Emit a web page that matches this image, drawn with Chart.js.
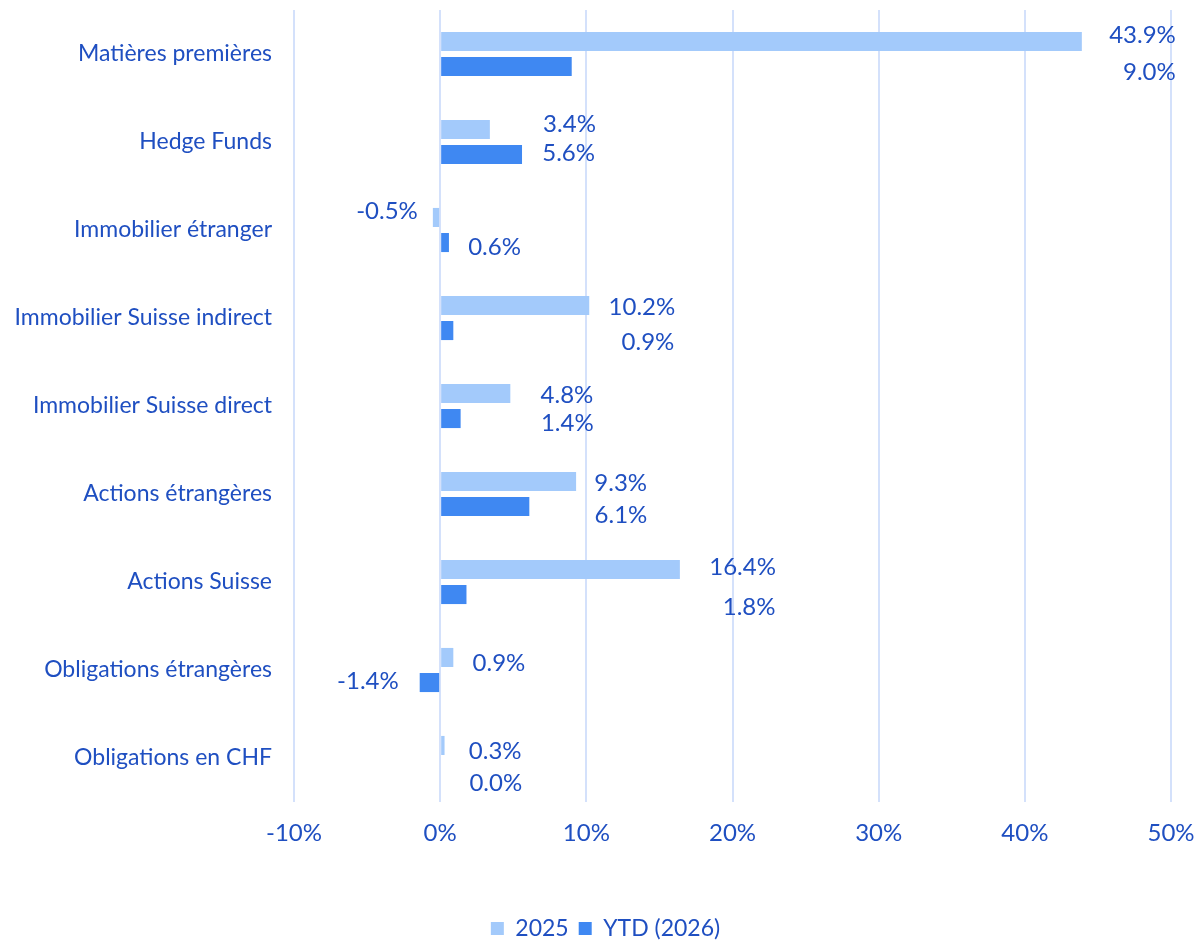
<!DOCTYPE html>
<html lang="fr">
<head>
  <meta charset="UTF-8" />
  <title>Performance par classe d'actifs</title>
  <script src="https://cdn.jsdelivr.net/npm/chart.js"></script>
  <style>
    body { margin: 0; background: #fff; }
    #wrap { position: relative; width: 1197px; height: 940px; }
  </style>
</head>
<body>
  <div id="wrap"><canvas id="perfChart"></canvas></div>

  <script>
    // Données
    const categories = [
      'Matières premières',
      'Hedge Funds',
      'Immobilier étranger',
      'Immobilier Suisse indirect',
      'Immobilier Suisse direct',
      'Actions étrangères',
      'Actions Suisse',
      'Obligations étrangères',
      'Obligations en CHF'
    ];
    const values2025 = [43.9, 3.4, -0.5, 10.2, 4.8, 9.3, 16.4, 0.9, 0.3];
    const valuesYTD = [9.0, 5.6, 0.6, 0.9, 1.4, 6.1, 1.8, -1.4, 0.0];
    const seriesNames = ['2025', 'YTD (2026)'];
    const xTicks = [-10, 0, 10, 20, 30, 40, 50];

    // décalages des étiquettes (px, bord droit du texte par rapport à l'extrémité de la barre)
    const labelOffset2025 = [[94, -6], [106, -5], [-15, -6], [86, 2], [83, 2], [71, 2], [96, -2], [72, 6], [77, 6]];
    const labelOffsetYTD = [[604, 6], [73, -1], [72, 5], [221, 12], [133, 5], [118, 9], [309, 13], [-21, -1], [82, 13]];

    const textColor = '#1f4fc1';
    const fontFamily = 'Lato, "Noto Sans", sans-serif';

    const valueLabels = {
      id: 'valueLabels',
      afterDatasetsDraw(chart) {
        const ctx = chart.ctx;
        const offsets = [labelOffset2025, labelOffsetYTD];
        ctx.save();
        ctx.font = '24px ' + fontFamily;
        ctx.fillStyle = textColor;
        ctx.textAlign = 'right';
        ctx.textBaseline = 'middle';
        chart.data.datasets.forEach((ds, i) => {
          chart.getDatasetMeta(i).data.forEach((bar, j) => {
            const off = offsets[i][j];
            ctx.fillText(ds.data[j].toFixed(1) + '%', bar.x + off[0], bar.y + off[1]);
          });
        });
        ctx.restore();
      }
    };

    // la légende est un peu décalée vers la droite dans l'original
    const legendShift = {
      id: 'legendShift',
      afterLayout(chart) {
        chart.legend.left += 20;
        chart.legend.right += 20;
      }
    };

    Chart.defaults.font.family = fontFamily;
    Chart.defaults.font.size = 23;
    Chart.defaults.color = textColor;

    new Chart(document.getElementById('perfChart'), {
      type: 'bar',
      data: {
        labels: categories,
        datasets: [
          {
            label: seriesNames[0],
            data: values2025,
            backgroundColor: '#a3cafb',
            categoryPercentage: 0.57,
            barPercentage: 0.76
          },
          {
            label: seriesNames[1],
            data: valuesYTD,
            backgroundColor: '#3f88f2',
            categoryPercentage: 0.57,
            barPercentage: 0.76
          }
        ]
      },
      options: {
        indexAxis: 'y',
        responsive: true,
        maintainAspectRatio: false,
        animation: false,
        layout: { padding: { top: 10, right: 26, bottom: -10, left: 0 } },
        plugins: {
          legend: {
            position: 'bottom',
            labels: {
              boxWidth: 13,
              boxHeight: 13,
              padding: 10,
              color: textColor,
              font: { size: 23 }
            }
          },
          tooltip: { enabled: false }
        },
        scales: {
          x: {
            min: xTicks[0],
            max: xTicks[xTicks.length - 1],
            afterBuildTicks: scale => { scale.ticks = xTicks.map(v => ({ value: v })); },
            ticks: {
              padding: 17,
              font: { size: 24 },
              callback: v => v + '%'
            },
            grid: { color: '#d4e1fb', lineWidth: 2, drawTicks: false },
            border: { display: false },
            afterFit: scale => {
              scale.height = 105;
              scale.paddingLeft = 0;
              scale.paddingRight = 0;
            }
          },
          y: {
            ticks: { padding: 22 },
            grid: { display: false, drawTicks: false },
            border: { display: false },
            afterFit: scale => {
              scale.width = 294;
              scale.paddingTop = 0;
              scale.paddingBottom = 0;
            }
          }
        }
      },
      plugins: [valueLabels, legendShift]
    });
  </script>
</body>
</html>
